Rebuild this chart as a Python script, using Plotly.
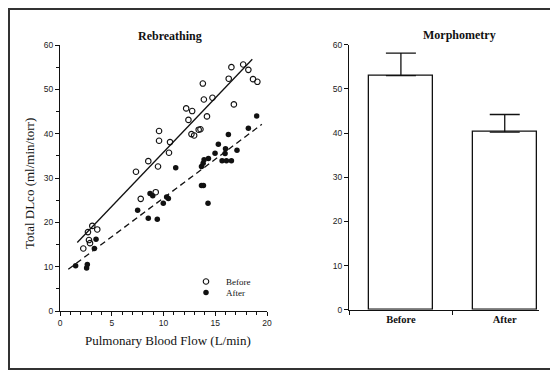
import plotly.graph_objects as go

# ---- data ----
before_flow = [2.25, 2.7, 2.8, 2.9, 3.12, 3.6, 7.34, 7.8, 8.53, 9.25, 9.47, 9.57, 9.57, 10.53, 10.63,
               12.19, 12.41, 12.7, 12.77, 12.96, 13.4, 13.57, 13.8, 13.9, 14.2, 14.73, 16.3, 16.56,
               16.8, 17.7, 18.2, 18.65, 19.07]
before_dlco = [14.1, 17.8, 16.0, 15.3, 19.2, 18.4, 31.4, 25.3, 33.8, 26.8, 32.6, 40.6, 38.4, 35.7, 38.1,
               45.7, 43.1, 39.9, 45.1, 39.6, 40.9, 41.0, 51.3, 47.7, 43.9, 48.1, 52.4, 55.0,
               46.6, 55.6, 54.4, 52.3, 51.7]
after_flow = [1.51, 2.57, 2.64, 3.32, 3.48, 7.5, 8.53, 8.7, 8.96, 9.4, 9.98, 10.3, 10.47, 11.18,
              13.67, 13.67, 13.83, 13.86, 13.92, 14.3, 14.34, 14.98, 15.3, 15.66, 15.95, 15.99,
              16.08, 16.27, 16.56, 17.1, 18.2, 19.0]
after_dlco = [10.2, 9.7, 10.5, 14.1, 16.2, 22.7, 20.9, 26.5, 26.0, 20.7, 24.3, 25.7, 25.4, 32.3,
              32.6, 28.3, 33.3, 28.3, 34.1, 24.3, 34.4, 35.6, 37.6, 33.9, 35.5, 36.6,
              33.9, 39.8, 33.9, 36.25, 41.2, 44.0]

# regression lines (slope, intercept, x-extent)
before_fit = {"slope": 2.445, "intercept": 11.37, "x": [1.67, 18.58]}
after_fit = {"slope": 1.749, "intercept": 8.0, "x": [0.8, 19.5]}

morph_groups = ["Before", "After"]
morph_values = [53.0, 40.2]
morph_err = [5.1, 4.0]

x_ticks = [0, 5, 10, 15, 20]
y_ticks = [0, 10, 20, 30, 40, 50, 60]

# page has an 8px body margin; figure fills the rest of the 558x372 window
OFF = 8
W, H = 558 - OFF, 372 - OFF
def px(x): return (x - OFF) / W
def py(y): return 1 - (y - OFF) / H

fig = go.Figure()

ink = "#111111"
serif = "Liberation Serif"
sans = "Liberation Sans"

fig.add_trace(go.Scatter(
    x=before_flow, y=before_dlco, mode="markers", name="Before",
    marker=dict(symbol="circle-open", size=5.5, color=ink, line=dict(width=1.1, color=ink)),
    xaxis="x", yaxis="y", legend="legend"))
fig.add_trace(go.Scatter(
    x=after_flow, y=after_dlco, mode="markers", name="After",
    marker=dict(symbol="circle", size=5.5, color=ink),
    xaxis="x", yaxis="y", legend="legend2"))

for fit, dash in ((before_fit, "solid"), (after_fit, "dash")):
    xs = fit["x"]
    ys = [fit["intercept"] + fit["slope"] * v for v in xs]
    fig.add_trace(go.Scatter(x=xs, y=ys, mode="lines", showlegend=False,
                             line=dict(color=ink, width=1.3, dash="6px,4px" if dash == "dash" else "solid"),
                             xaxis="x", yaxis="y"))

fig.add_trace(go.Bar(
    x=morph_groups, y=morph_values, width=0.62, showlegend=False,
    marker=dict(color="white", line=dict(color=ink, width=1.3)),
    error_y=dict(type="data", symmetric=False, array=morph_err, arrayminus=[0, 0],
                 color=ink, thickness=1.3, width=15),
    xaxis="x2", yaxis="y2"))

axis_common = dict(showgrid=False, zeroline=False, showline=True, linecolor=ink, linewidth=1.2,
                   ticks="outside", tickcolor=ink, tickwidth=1, ticklen=4, automargin=False,
                   tickfont=dict(family=sans, size=8.5, color="#222"))

def ann(text, x, y, size, angle=0):
    return dict(text=text, x=px(x), y=py(y), xref="paper", yref="paper", showarrow=False,
                xanchor="center", yanchor="middle", textangle=angle,
                font=dict(family=serif, size=size, color=ink))

fig.update_layout(
    width=W, height=H, margin=dict(l=0, r=0, t=0, b=0),
    paper_bgcolor="white", plot_bgcolor="white", template="none",
    bargap=0,
    xaxis=dict(domain=[px(60), px(267)], range=[0, 20], tickvals=x_ticks, anchor="y",
               minor=dict(dtick=1, ticks="outside", ticklen=2.5, tickcolor=ink, tickwidth=1),
               **axis_common),
    yaxis=dict(domain=[py(311), py(45)], range=[0, 60], tickvals=y_ticks, anchor="x",
               minor=dict(dtick=5, ticks="outside", ticklen=2.5, tickcolor=ink, tickwidth=1),
               **axis_common),
    xaxis2=dict(domain=[px(349), px(539)], range=[-0.5, 1.33], type="category", anchor="y2",
                tickson="boundaries",
                **{k: v for k, v in axis_common.items() if k != "tickfont"},
                tickfont=dict(family=serif, size=10.5, color=ink, weight="bold")),
    yaxis2=dict(domain=[py(309.7), py(44.7)], range=[0, 60], tickvals=y_ticks, anchor="x2",
                **axis_common),
    legend=dict(x=px(186), y=py(267), xanchor="left", yanchor="top", bgcolor="rgba(0,0,0,0)",
                font=dict(family=serif, size=9, color=ink), borderwidth=0),
    legend2=dict(x=px(186), y=py(278), xanchor="left", yanchor="top", bgcolor="rgba(0,0,0,0)",
                 font=dict(family=serif, size=9, color=ink), borderwidth=0),
    annotations=[
        ann("<b>Rebreathing</b>", 170, 36.5, 12),
        ann("<b>Morphometry</b>", 459, 35.5, 12),
        ann("Pulmonary Blood Flow (L/min)", 168, 340, 13),
        ann("Total DLco (ml/min/torr)", 29, 184, 13, -90),
    ],
    shapes=[dict(type="rect", xref="paper", yref="paper", x0=px(9), x1=1.05, y0=py(369), y1=py(9),
                 line=dict(color="#333", width=2), fillcolor="rgba(0,0,0,0)", layer="below")],
)

fig.write_html("out.html")
